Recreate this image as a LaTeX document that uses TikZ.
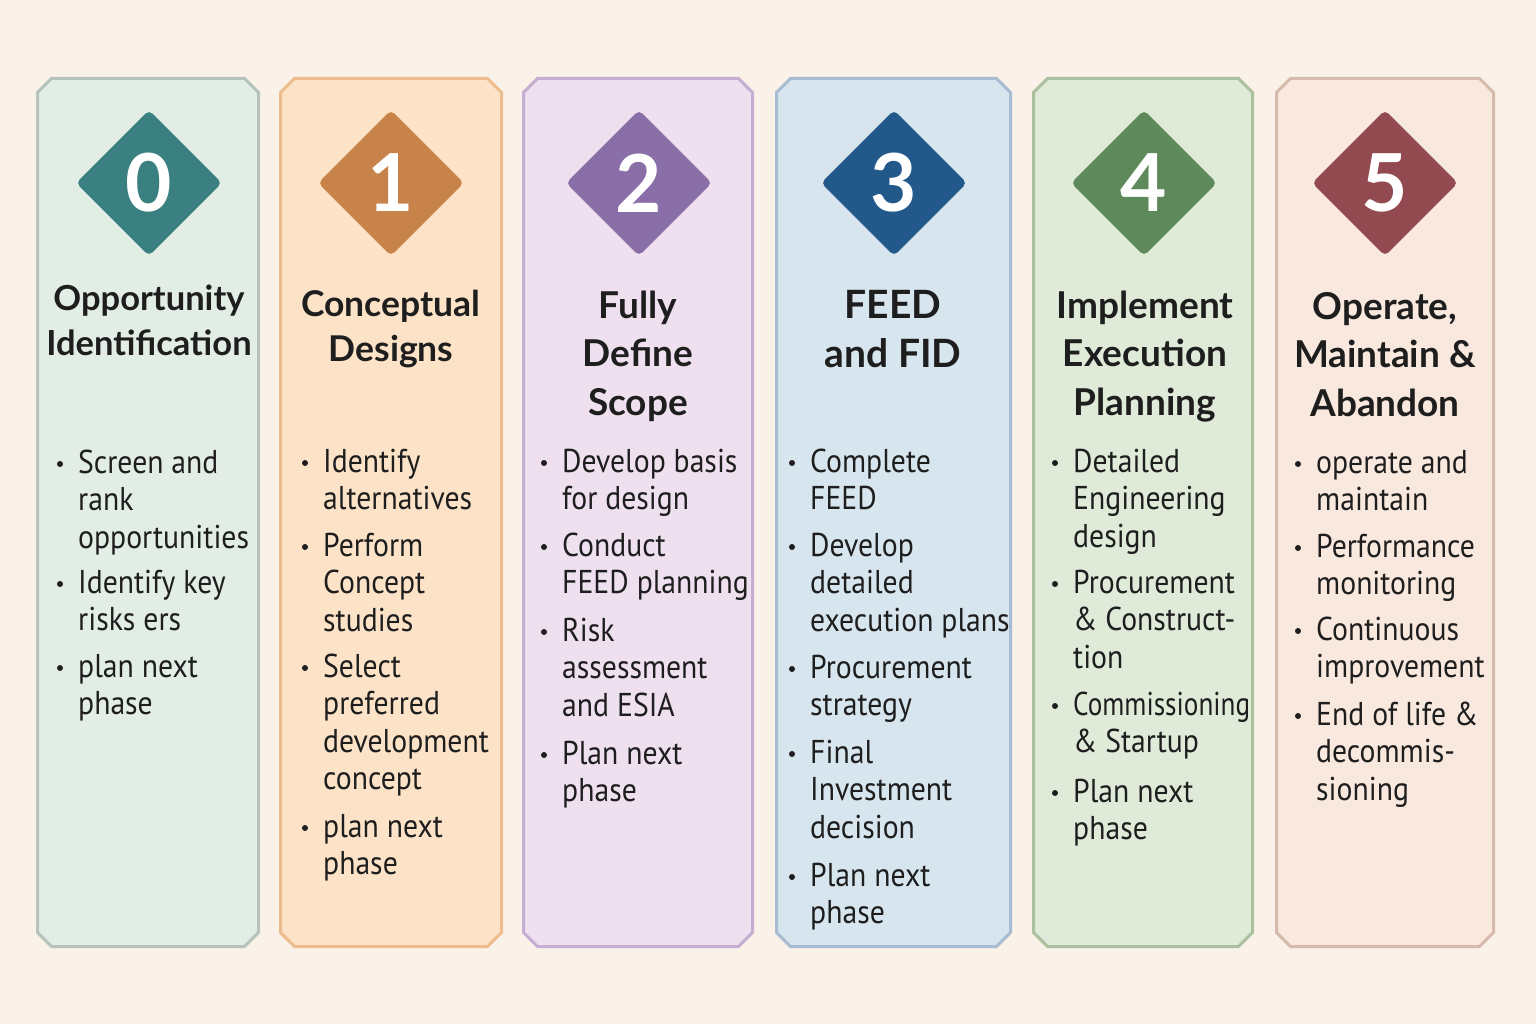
\documentclass[tikz,border=0pt]{standalone}
\usepackage{fontspec}
\setmainfont{PT Sans}
\newfontfamily\itemfont[FakeStretch=0.9]{PT Sans}
\newfontfamily\headfont{Lato}
\usetikzlibrary{shapes.geometric}

\definecolor{bgcol}{HTML}{FAF1E8}
\definecolor{ink}{HTML}{1E1E1E}
\definecolor{fillA}{HTML}{E2EDE5}\definecolor{lineA}{HTML}{B4C4BB}\definecolor{markA}{HTML}{3B8080}
\definecolor{fillB}{HTML}{FCE3C7}\definecolor{lineB}{HTML}{EDBD8E}\definecolor{markB}{HTML}{C8834B}
\definecolor{fillC}{HTML}{EEE0EE}\definecolor{lineC}{HTML}{C5AED2}\definecolor{markC}{HTML}{8A6EA7}
\definecolor{fillD}{HTML}{D7E5EE}\definecolor{lineD}{HTML}{A8BDD2}\definecolor{markD}{HTML}{22588A}
\definecolor{fillE}{HTML}{DFEBD8}\definecolor{lineE}{HTML}{ABC09F}\definecolor{markE}{HTML}{5E895A}
\definecolor{fillF}{HTML}{F8E8DE}\definecolor{lineF}{HTML}{D6BBAC}\definecolor{markF}{HTML}{924A50}

\tikzset{
  phase/.style={line width=3pt, fill=fill#1, draw=line#1},
  badge/.style={diamond, aspect=1, inner sep=0pt, minimum width=146pt, minimum height=146pt,
    rounded corners=5pt, fill=mark#1, text=white, font=\headfont\fontsize{80}{80}\selectfont\bfseries},
  heading/.style={anchor=base, align=center, inner sep=0pt, text=ink, font=\headfont\fontsize{37}{48.5}\selectfont\bfseries},
  item/.style={anchor=base west, align=left, inner sep=0pt, text=ink, font=\itemfont\fontsize{33}{37.5}\selectfont}
}

\begin{document}
\begin{tikzpicture}[x=1pt,y=-1pt]
		\fill[bgcol] (0,0) rectangle (1536,1024);
		\useasboundingbox (0,0) rectangle (1536,1024);
		% columns
		\foreach \cx/\w/\c in {148/221/A, 391/221/B, 638/229/C, 893.5/234/D, 1143/219/E, 1385/217/F}
			\draw[phase=\c] ({\cx-\w/2+14},78.5) -- ({\cx+\w/2-14},78.5) -- ({\cx+\w/2},92.5)
				-- ({\cx+\w/2},932.5) -- ({\cx+\w/2-14},946.5) -- ({\cx-\w/2+14},946.5)
				-- ({\cx-\w/2},932.5) -- ({\cx-\w/2},92.5) -- cycle;
		% numbers
		\node[badge=A] (d0) at (149,183) {0};
		\node[badge=B] (d1) at (391,183) {1};
		\node[badge=C] (d2) at (639,183) {2};
		\node[badge=D] (d3) at (894,183) {3};
		\node[badge=E] (d4) at (1144,183) {4};
		\node[badge=F] (d5) at (1385,183) {5};
		% headings (placed at the last line)
		\node[heading, font=\headfont\fontsize{34.5}{45}\selectfont\bfseries] (h0) at (149,355) {Opportunity\\Identification};
		\node[heading, font=\headfont\fontsize{35.5}{45}\selectfont\bfseries] (h1) at (391,361) {Conceptual\\Designs};
		\node[heading] (h2) at (638,415) {Fully\\Define\\Scope};
		\node[heading, font=\headfont\fontsize{39}{49}\selectfont\bfseries] (h3) at (893,367) {FEED\\and FID};
		\node[heading] (h4) at (1145,415) {Implement\\Execution\\Planning};
		\node[heading] (h5) at (1385,416) {Operate,\\Maintain \&\\Abandon};
		% bullet items (placed at the last line)
		\node[item] (a1) at (78,548) {Screen and\\rank\\opportunities};
		\node[item] (a2) at (78,630.5) {Identify key\\risks ers};
		\node[item] (a3) at (78,714.5) {plan next\\phase};
		\node[item] (b1) at (323,509.5) {Identify\\alternatives};
		\node[item] (b2) at (323,631) {Perform\\Concept\\studies};
		\node[item] (b3) at (323,789.5) {Select\\preferred\\development\\concept};
		\node[item] (b4) at (323,874.5) {plan next\\phase};
		\node[item] (c1) at (562,509.5) {Develop basis\\for design};
		\node[item] (c2) at (562,593.5) {Conduct\\FEED planning};
		\node[item] (c3) at (562,716) {Risk\\assessment\\and ESIA};
		\node[item] (c4) at (562,801.5) {Plan next\\phase};
		\node[item] (e1) at (810,509.5) {Complete\\FEED};
		\node[item] (e2) at (810,631) {Develop\\detailed\\execution plans};
		\node[item] (e3) at (810,715.5) {Procurement\\strategy};
		\node[item] (e4) at (810,838) {Final\\Investment\\decision};
		\node[item] (e5) at (810,923.5) {Plan next\\phase};
		\node[item] (f1) at (1073,547) {Detailed\\Engineering\\design};
		\node[item] (f2) at (1073,668) {Procurement\\\& Construct-\\tion};
		\node[item] (f3) at (1073,752.5) {\scalebox{0.915}[1]{Commissioning}\\\& Startup};
		\node[item] (f4) at (1073,839.5) {Plan next\\phase};
		\node[item] (g1) at (1316,510.5) {operate and\\maintain};
		\node[item] (g2) at (1316,594.5) {Performance\\monitoring};
		\node[item] (g3) at (1316,677.5) {Continuous\\improvement};
		\node[item] (g4) at (1316,800) {End of life \&\\decommis-\\sioning};
		% bullets at the first line
		\foreach \n/\k in {a1/2,a2/1,a3/1,b1/1,b2/2,b3/3,b4/1,c1/1,c2/1,c3/2,c4/1,
				e1/1,e2/2,e3/1,e4/2,e5/1,f1/2,f2/2,f3/1,f4/1,g1/1,g2/1,g3/1,g4/2}
			\fill[ink] ([shift={(-18,{-(\k*37.5+9)})}]\n.base west) circle (3);
	\end{tikzpicture}
\end{document}
